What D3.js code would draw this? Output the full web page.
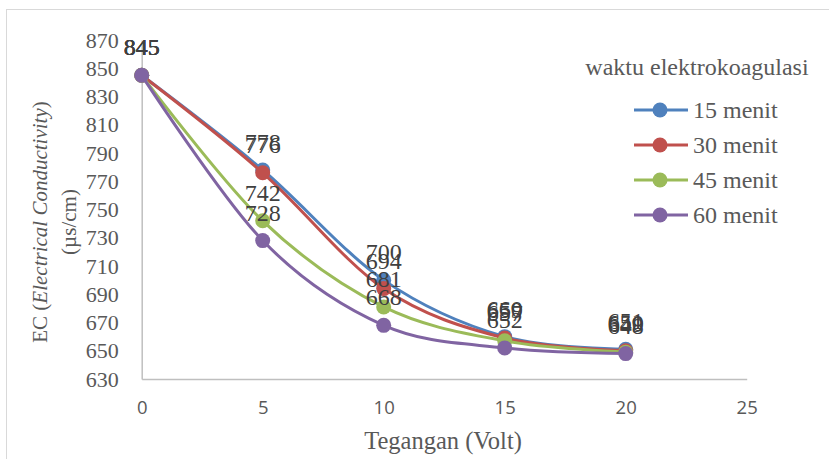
<!DOCTYPE html>
<html>
<head>
<meta charset="utf-8">
<script src="https://cdn.jsdelivr.net/npm/d3@7/dist/d3.min.js"></script>
<style>
  html, body { margin: 0; padding: 0; background: #fff; }
  svg { display: block; }
  .serif { font-family: "Liberation Serif", Tinos, "Times New Roman", Times, serif; }
  .sans { font-family: "Open Sans", "Noto Sans", sans-serif; }
</style>
</head>
<body>
<svg id="chart" width="829" height="459"></svg>
<script>
// Voltage (V) on the x axis
const voltages = [0, 5, 10, 15, 20];
// Electrical conductivity (µs/cm) per electrocoagulation time
const ec15 = [845, 778, 700, 660, 651];
const ec30 = [845, 776, 694, 659, 650];
const ec45 = [845, 742, 681, 657, 649];
const ec60 = [845, 728, 668, 652, 648];
const seriesNames = ["15 menit", "30 menit", "45 menit", "60 menit"];
const seriesColors = ["#4F81BD", "#C0504D", "#9BBB59", "#8064A2"];
const xTicks = [0, 5, 10, 15, 20, 25];
const yTicks = [630, 650, 670, 690, 710, 730, 750, 770, 790, 810, 830, 850, 870];

const series = [ec15, ec30, ec45, ec60].map((vals, i) => ({
  name: seriesNames[i],
  color: seriesColors[i],
  points: vals.map((v, j) => ({ x: voltages[j], y: v }))
}));

const svg = d3.select("#chart");

// outer chart frame
svg.append("rect")
  .attr("x", 6.5).attr("y", 9.5)
  .attr("width", 840).attr("height", 470)
  .attr("fill", "#fff").attr("stroke", "#d9d9d9").attr("stroke-width", 1);

const x = d3.scaleLinear().domain([0, 25]).range([141.7, 746.7]);
const y = d3.scaleLinear().domain([630, 870]).range([379, 40]);

const axisColor = "#bfbfbf";
const textColor = "#595959";

// y axis
const yAxis = svg.append("g")
  .attr("transform", `translate(${x(0)},0)`)
  .call(d3.axisLeft(y).tickValues(yTicks).tickSize(0).tickPadding(23));
yAxis.attr("font-family", null);
yAxis.select(".domain").attr("stroke", axisColor).attr("stroke-width", 1.5);
yAxis.selectAll("text")
  .attr("class", "serif")
  .attr("font-size", 22).attr("fill", textColor);

// x axis
const xAxis = svg.append("g")
  .attr("transform", `translate(0,${y(630)})`)
  .call(d3.axisBottom(x).tickValues(xTicks).tickSize(0).tickPadding(22));
xAxis.attr("font-family", null);
xAxis.select(".domain").attr("stroke", axisColor).attr("stroke-width", 1.5);
xAxis.selectAll("text")
  .attr("class", "sans")
  .attr("font-size", 18.5).attr("fill", textColor);

// axis titles
svg.append("text")
  .attr("class", "serif")
  .attr("x", 443).attr("y", 449)
  .attr("text-anchor", "middle")
  .attr("font-size", 24.5).attr("fill", textColor)
  .text("Tegangan (Volt)");

const yTitle = svg.append("g")
  .attr("class", "serif")
  .attr("transform", "translate(0,222) rotate(-90)")
  .attr("font-size", 21).attr("fill", textColor)
  .attr("text-anchor", "middle");
const t1 = yTitle.append("text").attr("x", 0).attr("y", 47);
t1.append("tspan").text("EC (");
t1.append("tspan").attr("font-style", "italic").text("Electrical Conductivity");
t1.append("tspan").text(")");
yTitle.append("text").attr("x", 0).attr("y", 76).text("(µs/cm)");

// smoothed lines
const line = d3.line()
  .x(d => x(d.x)).y(d => y(d.y))
  .curve(d3.curveCardinal.tension(0));

const plot = svg.append("g");
series.forEach(s => {
  plot.append("path")
    .datum(s.points)
    .attr("fill", "none")
    .attr("stroke", s.color)
    .attr("stroke-width", 3)
    .attr("stroke-linecap", "round")
    .attr("d", line);
  plot.selectAll(null)
    .data(s.points)
    .join("circle")
    .attr("cx", d => x(d.x)).attr("cy", d => y(d.y))
    .attr("r", 7.5)
    .attr("fill", s.color);
});

// data labels
series.forEach(s => {
  plot.selectAll(null)
    .data(s.points)
    .join("text")
    .attr("class", "serif")
    .attr("x", d => x(d.x)).attr("y", d => y(d.y) - 20)
    .attr("text-anchor", "middle")
    .attr("font-size", 24)
    .attr("fill", "#404040")
    .text(d => d.y);
});

// legend
const legend = svg.append("g")
  .attr("class", "serif")
  .attr("fill", textColor);
legend.append("text")
  .attr("x", 697).attr("y", 75)
  .attr("text-anchor", "middle")
  .attr("font-size", 24)
  .text("waktu elektrokoagulasi");
series.forEach((s, i) => {
  const ly = 110 + i * 35;
  legend.append("line")
    .attr("x1", 634).attr("x2", 688).attr("y1", ly).attr("y2", ly)
    .attr("stroke", s.color).attr("stroke-width", 3);
  legend.append("circle")
    .attr("cx", 660).attr("cy", ly).attr("r", 7.5).attr("fill", s.color);
  legend.append("text")
    .attr("x", 693).attr("y", ly + 8)
    .attr("font-size", 24)
    .text(s.name);
});
</script>
</body>
</html>
